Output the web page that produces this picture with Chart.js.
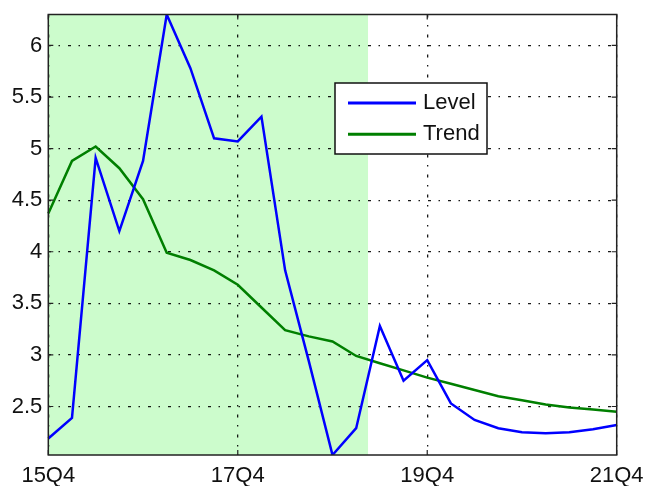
<!DOCTYPE html>
<html>
<head>
<meta charset="utf-8">
<script src="https://cdn.jsdelivr.net/npm/chart.js@4/dist/chart.umd.min.js"></script>
<style>
html,body{margin:0;padding:0;background:#fff;}
#wrap{width:647px;height:486px;position:relative;}
</style>
</head>
<body>
<div id="wrap"><canvas id="c" width="647" height="486"></canvas></div>
<script>
const quarters = ['15Q4','16Q1','16Q2','16Q3','16Q4','17Q1','17Q2','17Q3','17Q4','18Q1','18Q2','18Q3','18Q4','19Q1','19Q2','19Q3','19Q4','20Q1','20Q2','20Q3','20Q4','21Q1','21Q2','21Q3','21Q4'];
const level = [2.19, 2.39, 4.91, 4.20, 4.88, 6.30, 5.78, 5.10, 5.07, 5.31, 3.82, 2.94, 2.03, 2.29, 3.28, 2.75, 2.95, 2.53, 2.37, 2.29, 2.25, 2.24, 2.25, 2.28, 2.32];
const trend = [4.37, 4.88, 5.02, 4.81, 4.51, 3.99, 3.92, 3.82, 3.68, 3.46, 3.24, 3.18, 3.13, 2.99, 2.92, 2.85, 2.78, 2.72, 2.66, 2.60, 2.56, 2.52, 2.49, 2.47, 2.45];
const xTickLabels = ['15Q4','17Q4','19Q4','21Q4'];
const yTicks = [2.5, 3, 3.5, 4, 4.5, 5, 5.5, 6];
const yMin = 2.03, yMax = 6.30;
const shadeStart = 0, shadeEnd = 13.5;
const seriesNames = ['Level','Trend'];

const FONT = "'Liberation Sans', Arial, Helvetica, sans-serif";

const shadePlugin = {
  id: 'shade',
  beforeDraw(chart) {
    const {ctx, chartArea: a, scales: {x}} = chart;
    const x0 = x.getPixelForValue(shadeStart), x1 = x.getPixelForValue(shadeEnd);
    ctx.save();
    ctx.fillStyle = 'rgb(204,252,204)';
    ctx.fillRect(x0, a.top, x1 - x0, a.bottom - a.top);
    ctx.restore();
  }
};

const framePlugin = {
  id: 'frame',
  afterDatasetsDraw(chart) {
    const {ctx, chartArea: a, scales: {x, y}} = chart;
    ctx.save();
    ctx.strokeStyle = '#222';
    ctx.lineWidth = 1.2;
    const tl = 5;
    ctx.beginPath();
    x.ticks.forEach(t => {
      const px = x.getPixelForValue(t.value);
      ctx.moveTo(px, a.bottom); ctx.lineTo(px, a.bottom - tl);
      ctx.moveTo(px, a.top); ctx.lineTo(px, a.top + tl);
    });
    y.ticks.forEach(t => {
      const py = y.getPixelForValue(t.value);
      ctx.moveTo(a.left, py); ctx.lineTo(a.left + tl, py);
      ctx.moveTo(a.right, py); ctx.lineTo(a.right - tl, py);
    });
    ctx.stroke();
    ctx.lineWidth = 1.5;
    ctx.strokeRect(a.left, a.top, a.right - a.left, a.bottom - a.top);
    // legend
    const bx = 335, by = 83, bw = 152, bh = 71;
    ctx.fillStyle = '#fff';
    ctx.fillRect(bx, by, bw, bh);
    ctx.strokeStyle = '#111';
    ctx.lineWidth = 1.5;
    ctx.strokeRect(bx, by, bw, bh);
    chart.data.datasets.forEach((ds, i) => {
      const ly = by + 20 + i * 31.3;
      ctx.strokeStyle = ds.borderColor;
      ctx.lineWidth = 3;
      ctx.beginPath(); ctx.moveTo(348, ly); ctx.lineTo(416, ly); ctx.stroke();
      ctx.fillStyle = '#111';
      ctx.font = '22px ' + FONT;
      ctx.textBaseline = 'middle';
      ctx.textAlign = 'left';
      ctx.fillText(ds.label, 423, ly);
    });
    ctx.restore();
  }
};

new Chart(document.getElementById('c'), {
  type: 'line',
  data: {
    labels: quarters,
    datasets: [
      {label: seriesNames[0], data: level, borderColor: '#0000ff', borderWidth: 2.5, pointRadius: 0, tension: 0, fill: false},
      {label: seriesNames[1], data: trend, borderColor: '#007f00', borderWidth: 2.5, pointRadius: 0, tension: 0, fill: false}
    ]
  },
  options: {
    responsive: false,
    animation: false,
    events: [],
    layout: {padding: {left: 0, right: 30.3, top: 14.5, bottom: 0}},
    plugins: {legend: {display: false}, tooltip: {enabled: false}, title: {display: false}},
    scales: {
      x: {
        type: 'category',
        offset: false,
        afterBuildTicks(s) {
          s.ticks = s.ticks.filter(t => xTickLabels.includes(quarters[t.value]));
        },
        afterFit(s) { s.height = 31; s.paddingLeft = 0; s.paddingRight = 0; },
        ticks: {autoSkip: false, maxRotation: 0, padding: 8, color: '#111', font: {family: FONT, size: 22}},
        grid: {color: 'rgba(0,0,0,0.9)', lineWidth: 1.3, drawTicks: false},
        border: {display: false, dash: [3, 7.5, 1.5, 8]}
      },
      y: {
        type: 'linear',
        min: yMin, max: yMax,
        afterBuildTicks(s) { s.ticks = yTicks.map(v => ({value: v})); },
        afterFit(s) { s.width = 48.3; s.paddingTop = 0; s.paddingBottom = 0; },
        ticks: {padding: 6, color: '#111', font: {family: FONT, size: 22}, callback: v => String(v)},
        grid: {color: 'rgba(0,0,0,0.9)', lineWidth: 1.3, drawTicks: false},
        border: {display: false, dash: [3, 7.5, 1.5, 8]}
      }
    }
  },
  plugins: [shadePlugin, framePlugin]
});
</script>
</body>
</html>
